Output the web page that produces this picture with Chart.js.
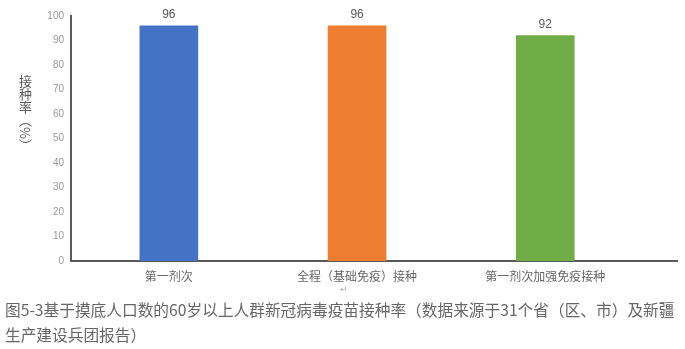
<!DOCTYPE html>
<html><head><meta charset="utf-8">
<script src="https://cdn.jsdelivr.net/npm/chart.js@4"></script>
<style>
html,body{margin:0;padding:0;background:#fff;}
#wrap{position:relative;width:685px;height:349px;overflow:hidden;}
#box{position:absolute;left:0;top:0;width:685px;height:290px;}
#ytitle{position:absolute;left:16px;top:75px;writing-mode:vertical-rl;font-family:"Noto Sans CJK SC";font-size:13px;color:#595959;line-height:18px;}
#cap{position:absolute;left:5px;top:297px;width:684px;font-family:"Noto Sans CJK SC";font-size:15.7px;color:#666;line-height:25px;white-space:nowrap;}
#mark{position:absolute;left:340px;top:284px;font-size:9px;color:#aaa;font-family:"DejaVu Sans";}
</style></head><body>
<div id="wrap">
<div id="box"><canvas id="c"></canvas></div>
<div id="ytitle">接种率（%）</div>
<div id="mark">↵</div>
<div id="cap">图5-3基于摸底人口数的60岁以上人群新冠病毒疫苗接种率（数据来源于31个省（区、市）及新疆<br>生产建设兵团报告）</div>
</div>
<script>
const categories = ["第一剂次", "全程（基础免疫）接种", "第一剂次加强免疫接种"];
const values = [96, 96, 92];
const barColors = ["#4472C4", "#ED7D31", "#70AD47"];
const yTicks = [0,10,20,30,40,50,60,70,80,90,100];

const labelPlugin = {
  id: 'valLabels',
  afterDatasetsDraw(chart) {
    const ctx = chart.ctx;
    const meta = chart.getDatasetMeta(0);
    ctx.save();
    ctx.font = '12px "Liberation Sans", Arial, sans-serif';
    ctx.fillStyle = '#595959';
    ctx.textAlign = 'center';
    ctx.textBaseline = 'bottom';
    meta.data.forEach((bar, i) => {
      ctx.fillText(String(values[i]), bar.x, bar.y - 5);
    });
    ctx.restore();
  }
};

new Chart(document.getElementById('c'), {
  type: 'bar',
  data: {
    datasets: [{
      data: values.map((v, i) => ({x: i, y: v})),
      backgroundColor: barColors,
      barThickness: 58,
      borderWidth: 0
    }]
  },
  options: {
    responsive: true,
    maintainAspectRatio: false,
    animation: false,
    layout: {padding: {left: 0, right: 8, top: 16, bottom: 0}},
    plugins: {legend: {display: false}, tooltip: {enabled: false}},
    scales: {
      x: {
        type: 'linear',
        offset: false,
        min: -0.52, max: 2.7,
        afterBuildTicks(s) { s.ticks = categories.map((_, i) => ({value: i})); },
        afterFit(s) { s.height = 29; },
        grid: {display: false, drawTicks: false, offset: false},
        border: {display: true, color: '#595959', width: 2},
        ticks: {
          callback: (v) => categories[v] ?? '',
          color: '#666666',
          font: {family: '"Noto Sans CJK SC"', size: 12},
          padding: 8,
          maxRotation: 0, autoSkip: false
        }
      },
      y: {
        min: 0, max: 100,
        afterBuildTicks(s) { s.ticks = yTicks.map(v => ({value: v})); },
        afterFit(s) { s.width = 71; },
        grid: {display: false, drawTicks: false},
        border: {display: true, color: '#595959', width: 2},
        ticks: {
          color: '#999999',
          font: {family: '"Liberation Sans", Arial, sans-serif', size: 10},
          padding: 7
        }
      }
    }
  },
  plugins: [labelPlugin]
});
</script>
</body></html>
